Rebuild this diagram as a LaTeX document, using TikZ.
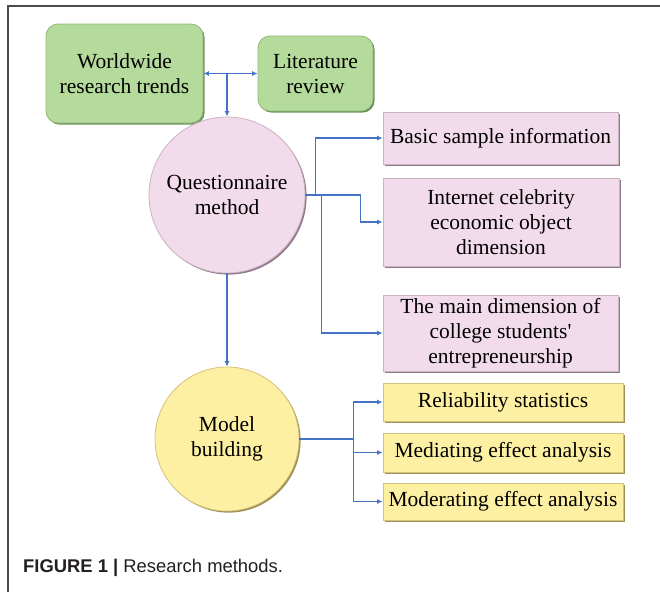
\documentclass[tikz,border=0pt]{standalone}
\usepackage{fontspec}
\setmainfont{Liberation Serif}[Ligatures=TeXOff]
\newfontfamily\capfont{Liberation Sans}
\usetikzlibrary{arrows.meta}

\definecolor{greenfill}{HTML}{B5DB9C}
\definecolor{greenedge}{HTML}{8DB875}
\definecolor{greenshade}{HTML}{6E8F5A}
\definecolor{pinkfill}{HTML}{F2DCEB}
\definecolor{pinkedge}{HTML}{C9B3C4}
\definecolor{pinkshade}{HTML}{8E7A8A}
\definecolor{yellowfill}{HTML}{FDF0A2}
\definecolor{yellowedge}{HTML}{D4C27A}
\definecolor{yellowshade}{HTML}{A08F55}
\definecolor{linkblue}{HTML}{4472C4}
\definecolor{captext}{HTML}{231F20}

\tikzset{
  label text/.style={font=\fontsize{21.5}{25}\selectfont, align=center, inner sep=2pt},
  bevel/.style={preaction={fill=#1, transform canvas={shift={(1.6pt,-1.6pt)}}}},
  greenbox/.style={label text, rectangle, rounded corners=12pt, fill=greenfill,
    draw=greenedge, line width=0.8pt, bevel=greenshade},
  pinkbox/.style={label text, rectangle, fill=pinkfill, draw=pinkedge,
    line width=0.8pt, bevel=pinkshade},
  yellowbox/.style={label text, rectangle, fill=yellowfill, draw=yellowedge,
    line width=0.8pt, bevel=yellowshade},
  pinkdisc/.style={label text, circle, fill=pinkfill, draw=pinkedge,
    line width=0.8pt, bevel=pinkshade},
  yellowdisc/.style={label text, circle, fill=yellowfill, draw=yellowedge,
    line width=0.8pt, bevel=yellowshade},
  link/.style={draw=linkblue, line width=1.2pt, -{Latex[length=5.5pt,width=5pt]}},
  twolink/.style={draw=linkblue, line width=1.2pt,
    {Latex[length=5.5pt,width=5pt]}-{Latex[length=5.5pt,width=5pt]}},
}

\begin{document}
\begin{tikzpicture}[x=1pt, y=-1pt]
  \useasboundingbox (0,0) rectangle (660,592);

  % outer frame (top and left rules only)
  \draw[line width=1.3pt, black!70] (8,592) -- (8,6) -- (660,6);

  % top row
  \node[greenbox, minimum width=157pt, minimum height=99pt] (trends) at (124.5,73.5)
    {Worldwide\\research trends};
  \node[greenbox, minimum width=115pt, minimum height=75pt] (review) at (315.5,73.5)
    {Literature\\review};

  % main stages
  \node[pinkdisc, minimum size=156pt] (quest) at (227,195) {Questionnaire\\method};
  \node[yellowdisc, minimum size=144pt] (model) at (227,439) {Model\\building};

  % questionnaire parts
  \node[pinkbox, minimum width=235pt, minimum height=52pt] (basic) at (500.5,138)
    {Basic sample information};
  \node[pinkbox, minimum width=236pt, minimum height=88pt] (celeb) at (501,222)
    {Internet celebrity\\economic object\\dimension};
  \node[pinkbox, minimum width=235pt, minimum height=76pt] (entre) at (500.5,333)
    {The main dimension of\\college students'\\entrepreneurship};

  % model building parts
  \node[yellowbox, minimum width=240pt, minimum height=38pt] (reli) at (503,402)
    {Reliability statistics};
  \node[yellowbox, minimum width=240pt, minimum height=39pt] (medi) at (503,452.5)
    {Mediating effect analysis};
  \node[yellowbox, minimum width=240pt, minimum height=37pt] (mode) at (503,501.5)
    {Moderating effect analysis};

  % connectors
  \draw[twolink] (trends.east) -- (review.west);
  \coordinate (split) at (227,73.5);
  \draw[link] (split) -- (quest.north);

  \draw[link] (quest.east) -- ++(10,0) |- (basic.west);
  \draw[link] (quest.east) -- ++(55,0) |- (celeb.west);
  \draw[link] (quest.east) -- ++(16,0) |- (entre.west);

  \draw[link] (quest.south) -- (model.north);

  \draw[link] (model.east) -- ++(54,0) |- (reli.west);
  \draw[link] (model.east) -- ++(54,0) |- (medi.west);
  \draw[link] (model.east) -- ++(54,0) |- (mode.west);

  % caption
  \node[anchor=base west, inner sep=0pt, text=captext,
        font=\capfont\fontsize{18.4}{21}\selectfont] (caption) at (23,572)
    {\textbf{FIGURE 1 |} Research methods.};
\end{tikzpicture}
\end{document}
